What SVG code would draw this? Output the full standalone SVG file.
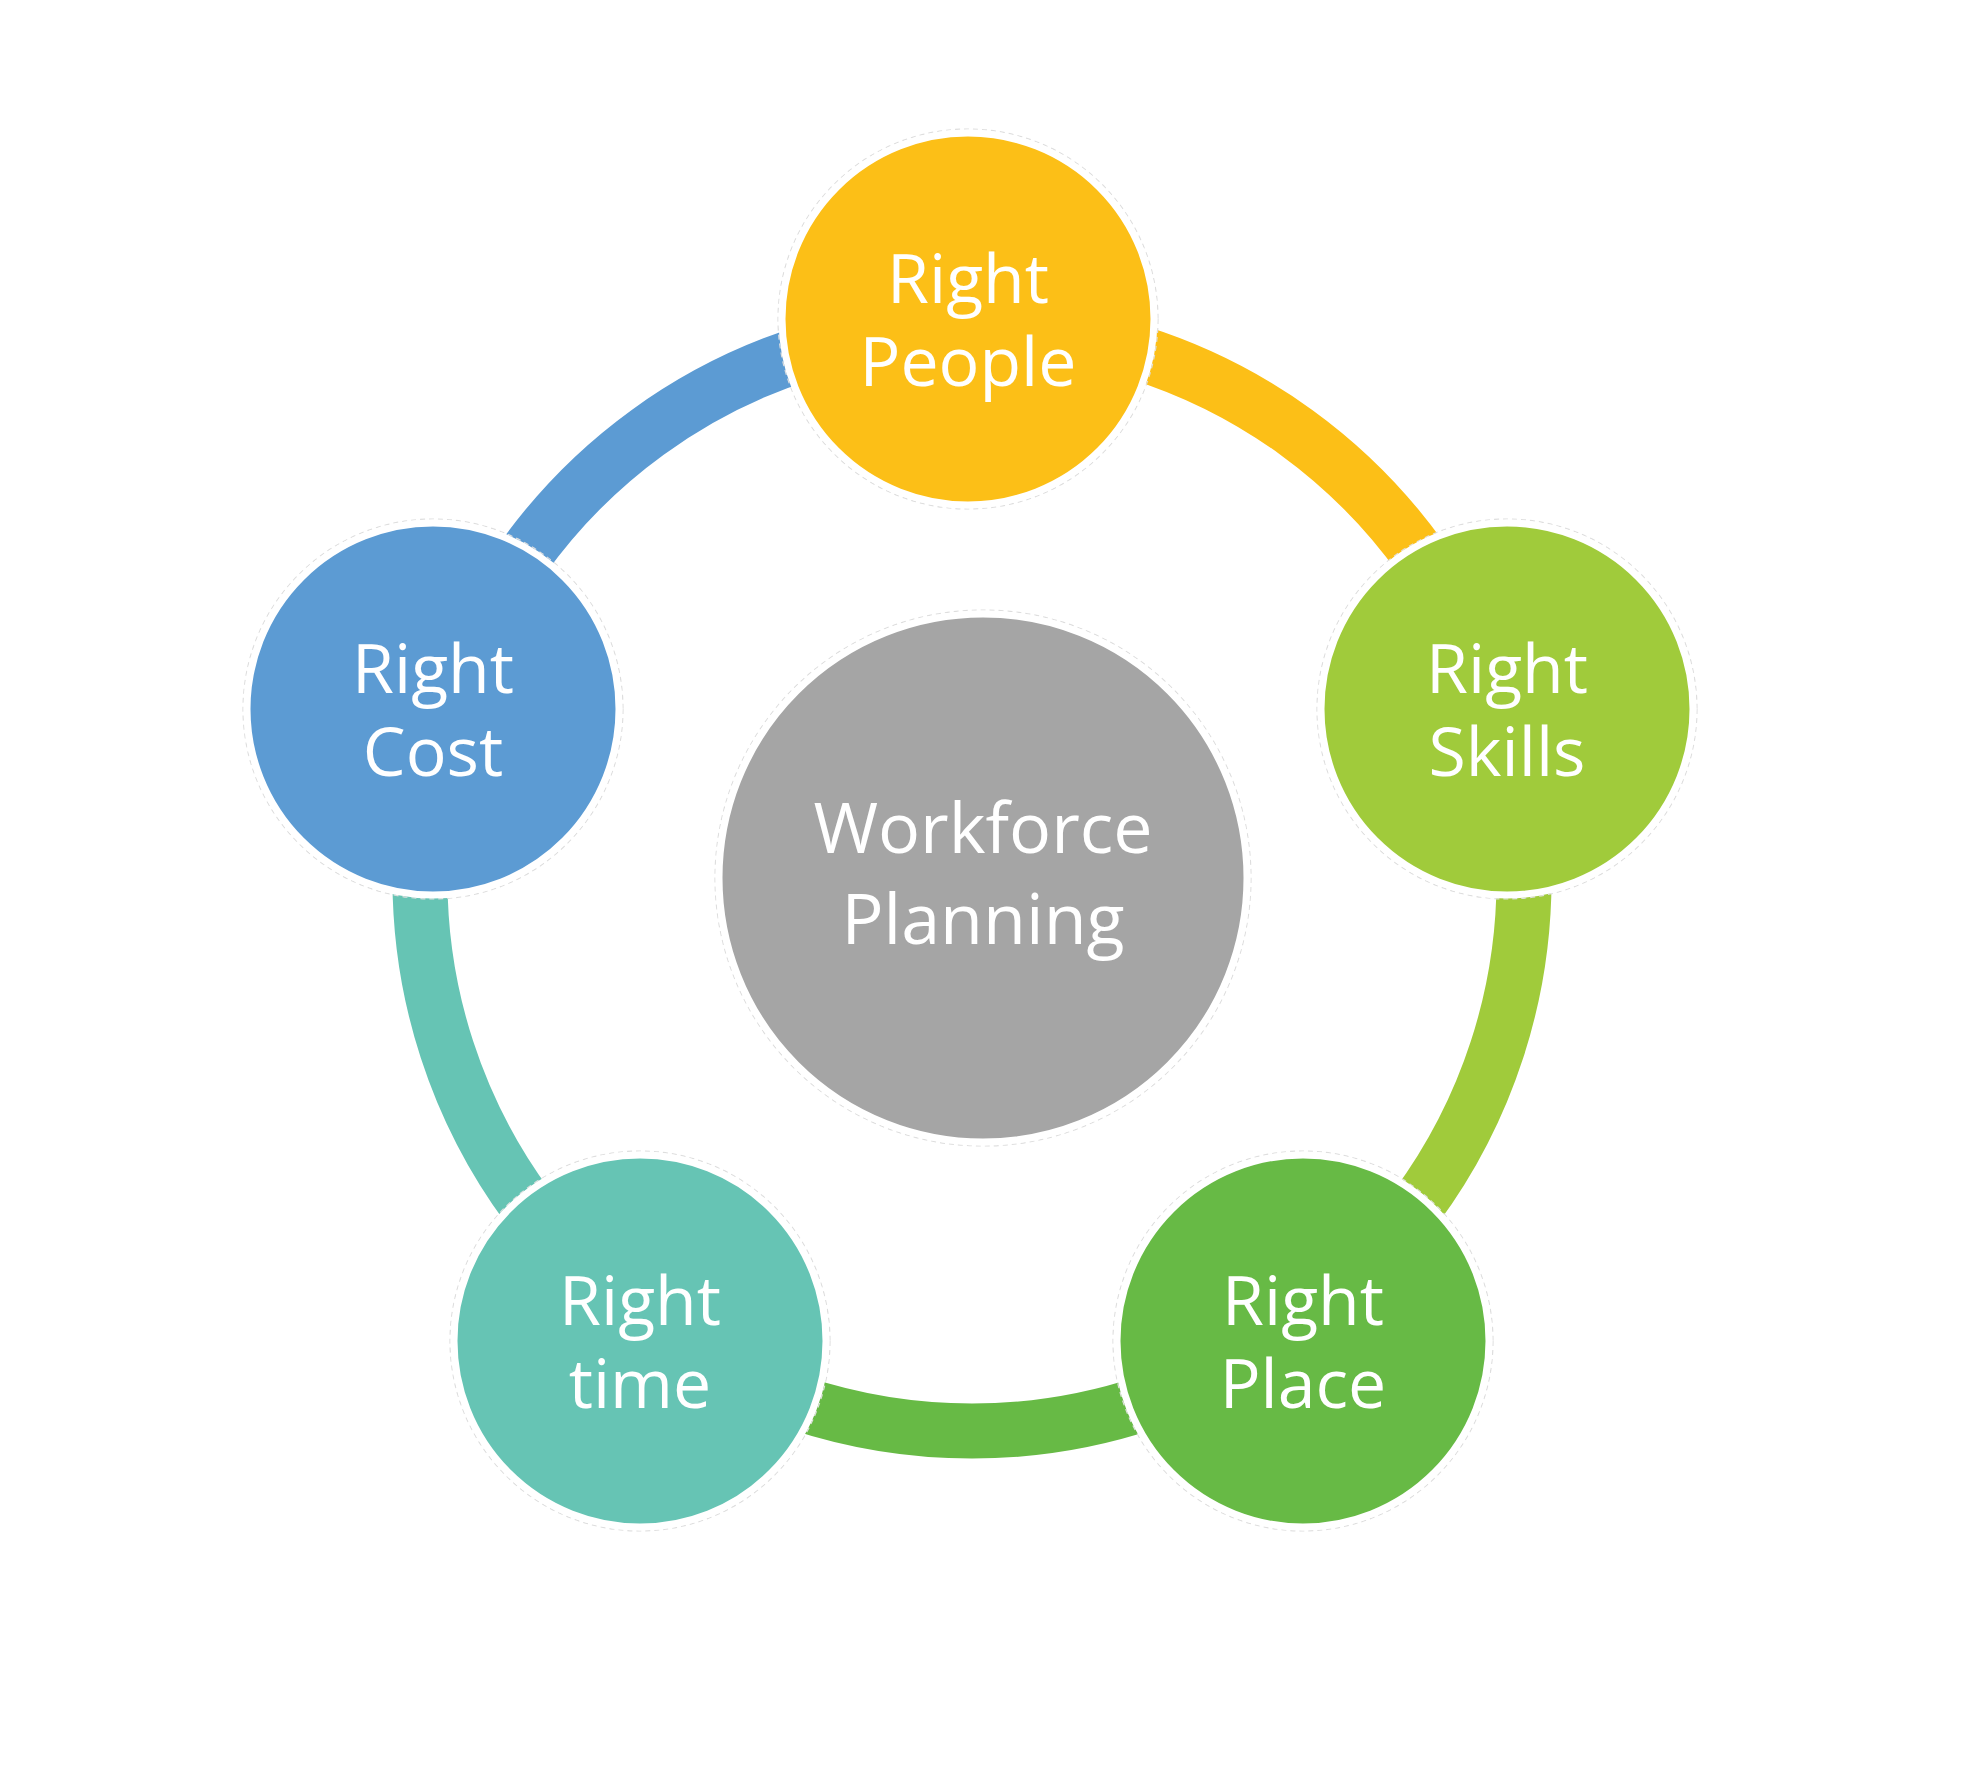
<svg xmlns="http://www.w3.org/2000/svg" width="1978" height="1775" viewBox="0 0 1978 1775">
<style>
.arc{fill:none;stroke-width:55;stroke-linecap:butt}
.node{stroke:#ffffff;stroke-width:7}
.edge{fill:none;stroke:#dedede;stroke-width:1.2;stroke-dasharray:5 4}
.lbl{font-family:"Open Sans","Noto Sans","Liberation Sans",sans-serif;font-size:68px;fill:#ffffff;text-anchor:middle}
.big{font-size:70px}
</style>
<rect width="1978" height="1775" fill="#ffffff"/>
<g id="connectors">
<path class="arc" stroke="#FCBF17" d="M972 327 A552 552 0 0 1 1497 708.4"/>
<path class="arc" stroke="#A0CB3B" d="M1497 708.4 A552 552 0 0 1 1296.5 1325.6"/>
<path class="arc" stroke="#67BA45" d="M1296.5 1325.6 A552 552 0 0 1 647.5 1325.6"/>
<path class="arc" stroke="#66C4B4" d="M647.5 1325.6 A552 552 0 0 1 447 708.4"/>
<path class="arc" stroke="#5C9BD3" d="M447 708.4 A552 552 0 0 1 972 327"/>
</g>
<g id="center">
<circle class="edge" cx="983" cy="878" r="268"/>
<circle class="node" cx="983" cy="878" r="264" fill="#A5A5A5"/>
<text class="lbl big" x="983" y="853">Workforce</text>
<text class="lbl big" x="983" y="944">Planning</text>
</g>
<g id="people">
<circle class="edge" cx="968" cy="319" r="190"/>
<circle class="node" cx="968" cy="319" r="186" fill="#FCBF17"/>
<text class="lbl" x="968" y="303">Right</text>
<text class="lbl" x="968" y="386">People</text>
</g>
<g id="skills">
<circle class="edge" cx="1507" cy="709" r="190"/>
<circle class="node" cx="1507" cy="709" r="186" fill="#A0CB3B"/>
<text class="lbl" x="1507" y="693">Right</text>
<text class="lbl" x="1507" y="776">Skills</text>
</g>
<g id="place">
<circle class="edge" cx="1303" cy="1341" r="190"/>
<circle class="node" cx="1303" cy="1341" r="186" fill="#67BA45"/>
<text class="lbl" x="1303" y="1325">Right</text>
<text class="lbl" x="1303" y="1408">Place</text>
</g>
<g id="time">
<circle class="edge" cx="640" cy="1341" r="190"/>
<circle class="node" cx="640" cy="1341" r="186" fill="#66C4B4"/>
<text class="lbl" x="640" y="1325">Right</text>
<text class="lbl" x="640" y="1408">time</text>
</g>
<g id="cost">
<circle class="edge" cx="433" cy="709" r="190"/>
<circle class="node" cx="433" cy="709" r="186" fill="#5C9BD3"/>
<text class="lbl" x="433" y="693">Right</text>
<text class="lbl" x="433" y="776">Cost</text>
</g>
</svg>
